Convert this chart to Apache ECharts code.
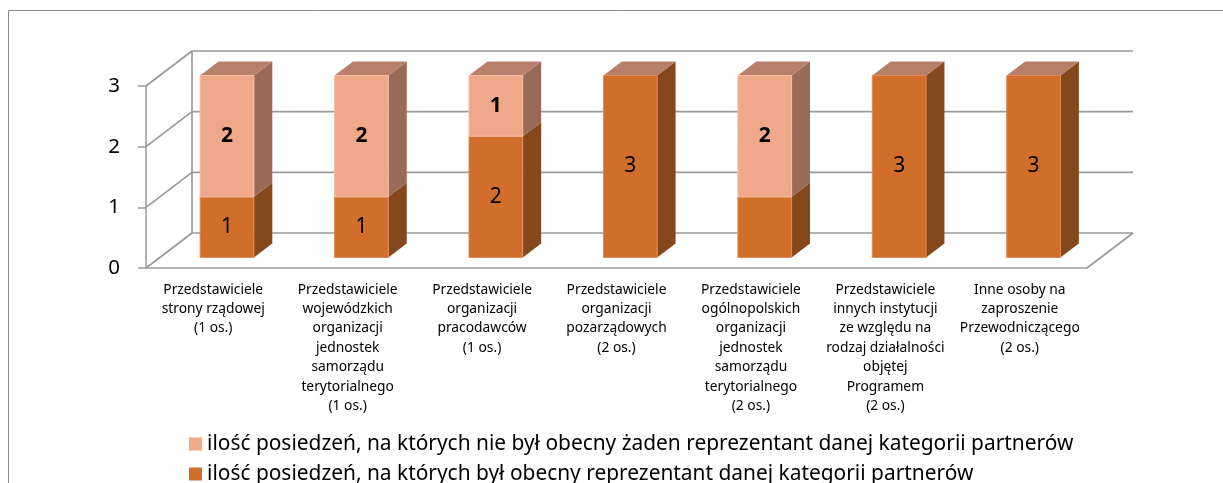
<!DOCTYPE html>
<html><head><meta charset="utf-8">
<script src="https://cdn.jsdelivr.net/npm/echarts@6/dist/echarts.min.js"></script>
<style>html,body{margin:0;padding:0;background:#fff}#c{width:1223px;height:483px}</style>
</head><body><div id="c"></div>
<script>
const categories = [
  'Przedstawiciele\nstrony rządowej\n(1 os.)',
  'Przedstawiciele\nwojewódzkich\norganizacji\njednostek\nsamorządu\nterytorialnego\n(1 os.)',
  'Przedstawiciele\norganizacji\npracodawców\n(1 os.)',
  'Przedstawiciele\norganizacji\npozarządowych\n(2 os.)',
  'Przedstawiciele\nogólnopolskich\norganizacji\njednostek\nsamorządu\nterytorialnego\n(2 os.)',
  'Przedstawiciele\ninnych instytucji\nze względu na\nrodzaj działalności\nobjętej\nProgramem\n(2 os.)',
  'Inne osoby na\nzaproszenie\nPrzewodniczącego\n(2 os.)'
];
const presentName = 'ilość posiedzeń, na których był obecny reprezentant danej kategorii partnerów';
const absentName = 'ilość posiedzeń, na których nie był obecny żaden reprezentant danej kategorii partnerów';
const presentValues = [1, 1, 2, 3, 1, 3, 3];
const absentValues = [2, 2, 1, 0, 2, 0, 0];
const presentLabelShown = [true, true, true, true, false, true, true];
const absentLabelShown = [true, true, true, true, true, true, true];
const yTicks = [0, 1, 2, 3];

const FONT = '"Noto Sans", "Liberation Sans", sans-serif';
const DEPTH = [46, -35];
const FRONT = 0.3, BACK = 0.7, BARW = 0.4;
const GRID_COLOR = '#9a9a9a';

const presentData = presentValues.map((v, i) => [i, 0, v]);
const absentData = absentValues.map((v, i) => [i, presentValues[i], presentValues[i] + v]);

function barRenderer(colors, bold, shown) {
  return function (params, api) {
    const i = api.value(0), s = api.value(1), e = api.value(2);
    if (e - s <= 0) return { type: 'group', children: [] };
    const band = api.size([1, 0])[0];
    const p0 = api.coord([i, s]), p1 = api.coord([i, e]);
    const w = band * BARW;
    const fx = DEPTH[0] * FRONT, fy = DEPTH[1] * FRONT;
    const bx = DEPTH[0] * (BACK - FRONT), by = DEPTH[1] * (BACK - FRONT);
    const xl = p0[0] - w / 2 + fx, xr = p0[0] + w / 2 + fx;
    const yb = p0[1] + fy, yt = p1[1] + fy;
    const ch = [];
    ch.push({ type: 'polygon', shape: { points: [[xr, yb], [xr + bx, yb + by], [xr + bx, yt + by], [xr, yt]] }, style: { fill: colors.side } });
    const total = presentValues[i] + absentValues[i];
    if (e >= total) {
      ch.push({ type: 'polygon', shape: { points: [[xl, yt], [xr, yt], [xr + bx, yt + by], [xl + bx, yt + by]] }, style: { fill: colors.top } });
    }
    ch.push({ type: 'rect', shape: { x: xl, y: yt, width: w, height: yb - yt }, style: { fill: colors.front, stroke: colors.edge, lineWidth: 1 } });
    if (shown[i]) {
      ch.push({ type: 'text', z2: 10, style: { text: String(e - s), x: (xl + xr) / 2, y: (yt + yb) / 2, align: 'center', verticalAlign: 'middle', fill: '#000', font: (bold ? 'bold ' : '') + '21px ' + FONT } });
    }
    return { type: 'group', children: ch };
  };
}

function wallRenderer(params, api) {
  const cs = params.coordSys;
  const x0 = cs.x, x1 = cs.x + cs.width;
  const dx = DEPTH[0], dy = DEPTH[1];
  const ch = [];
  const line = (a, b, c, d) => ch.push({ type: 'line', shape: { x1: a, y1: b, x2: c, y2: d }, style: { stroke: GRID_COLOR, lineWidth: 1.7 } });
  yTicks.forEach(v => {
    const y = api.coord([0, v])[1];
    line(x0, y, x0 + dx, y + dy);
    line(x0 + dx, y + dy, x1 + dx, y + dy);
  });
  const yTop = api.coord([0, yTicks[yTicks.length - 1]])[1];
  const yBot = api.coord([0, yTicks[0]])[1];
  line(x0 + dx, yTop + dy, x0 + dx, yBot + dy);
  line(x1, yBot, x1 + dx, yBot + dy);
  return { type: 'group', children: ch };
}

const chart = echarts.init(document.getElementById('c'), null, { renderer: 'canvas' });
chart.setOption({
  backgroundColor: '#fff',
  animation: false,
  graphic: [{ type: 'rect', silent: true, z: -10, shape: { x: 8.5, y: 10.5, width: 1300, height: 600 }, style: { fill: 'none', stroke: '#8c8c8c', lineWidth: 1 } }],
  grid: { left: 146, right: 136, top: 86, bottom: 215, containLabel: false },
  xAxis: {
    type: 'category', data: categories,
    axisLine: { lineStyle: { color: GRID_COLOR, width: 1.5 } },
    axisTick: { length: 5, lineStyle: { color: GRID_COLOR, width: 1.5 } },
    axisLabel: { interval: 0, hideOverlap: false, margin: 12, fontSize: 13.8, lineHeight: 19.4, color: '#000', fontFamily: FONT },
    splitLine: { show: false }
  },
  yAxis: {
    type: 'value', min: 0, max: 3, interval: 1,
    axisLine: { show: true, lineStyle: { color: GRID_COLOR, width: 1.5 } },
    axisTick: { show: true, length: 8, lineStyle: { color: GRID_COLOR, width: 1.5 } },
    axisLabel: { margin: 26, fontSize: 20.5, color: '#000', fontFamily: FONT },
    splitLine: { show: false }
  },
  legend: {
    orient: 'vertical', left: 189, top: 429, width: 1000, height: 90, padding: 0, itemGap: 0,
    itemWidth: 13, itemHeight: 13, icon: 'rect',
    data: [absentName, presentName],
    textStyle: { fontSize: 20.9, lineHeight: 30, color: '#000', fontFamily: FONT }
  },
  series: [
    { type: 'custom', name: 'walls', silent: true, z: 1, data: [[0, 0, 0]], encode: { x: 0, y: 1 }, renderItem: wallRenderer },
    { type: 'custom', name: presentName, z: 2, itemStyle: { color: '#d26e2b' }, data: presentData, encode: { x: 0, y: [1, 2] },
      renderItem: barRenderer({ front: '#d26e2b', side: '#85471c', top: '#b67f68', edge: '#e08c58' }, false, presentLabelShown) },
    { type: 'custom', name: absentName, z: 3, itemStyle: { color: '#f0a88a' }, data: absentData, encode: { x: 0, y: [1, 2] },
      renderItem: barRenderer({ front: '#f0a88a', side: '#9a6a58', top: '#b8806a', edge: '#f5bea5' }, true, absentLabelShown) }
  ]
});
</script>
</body></html>
